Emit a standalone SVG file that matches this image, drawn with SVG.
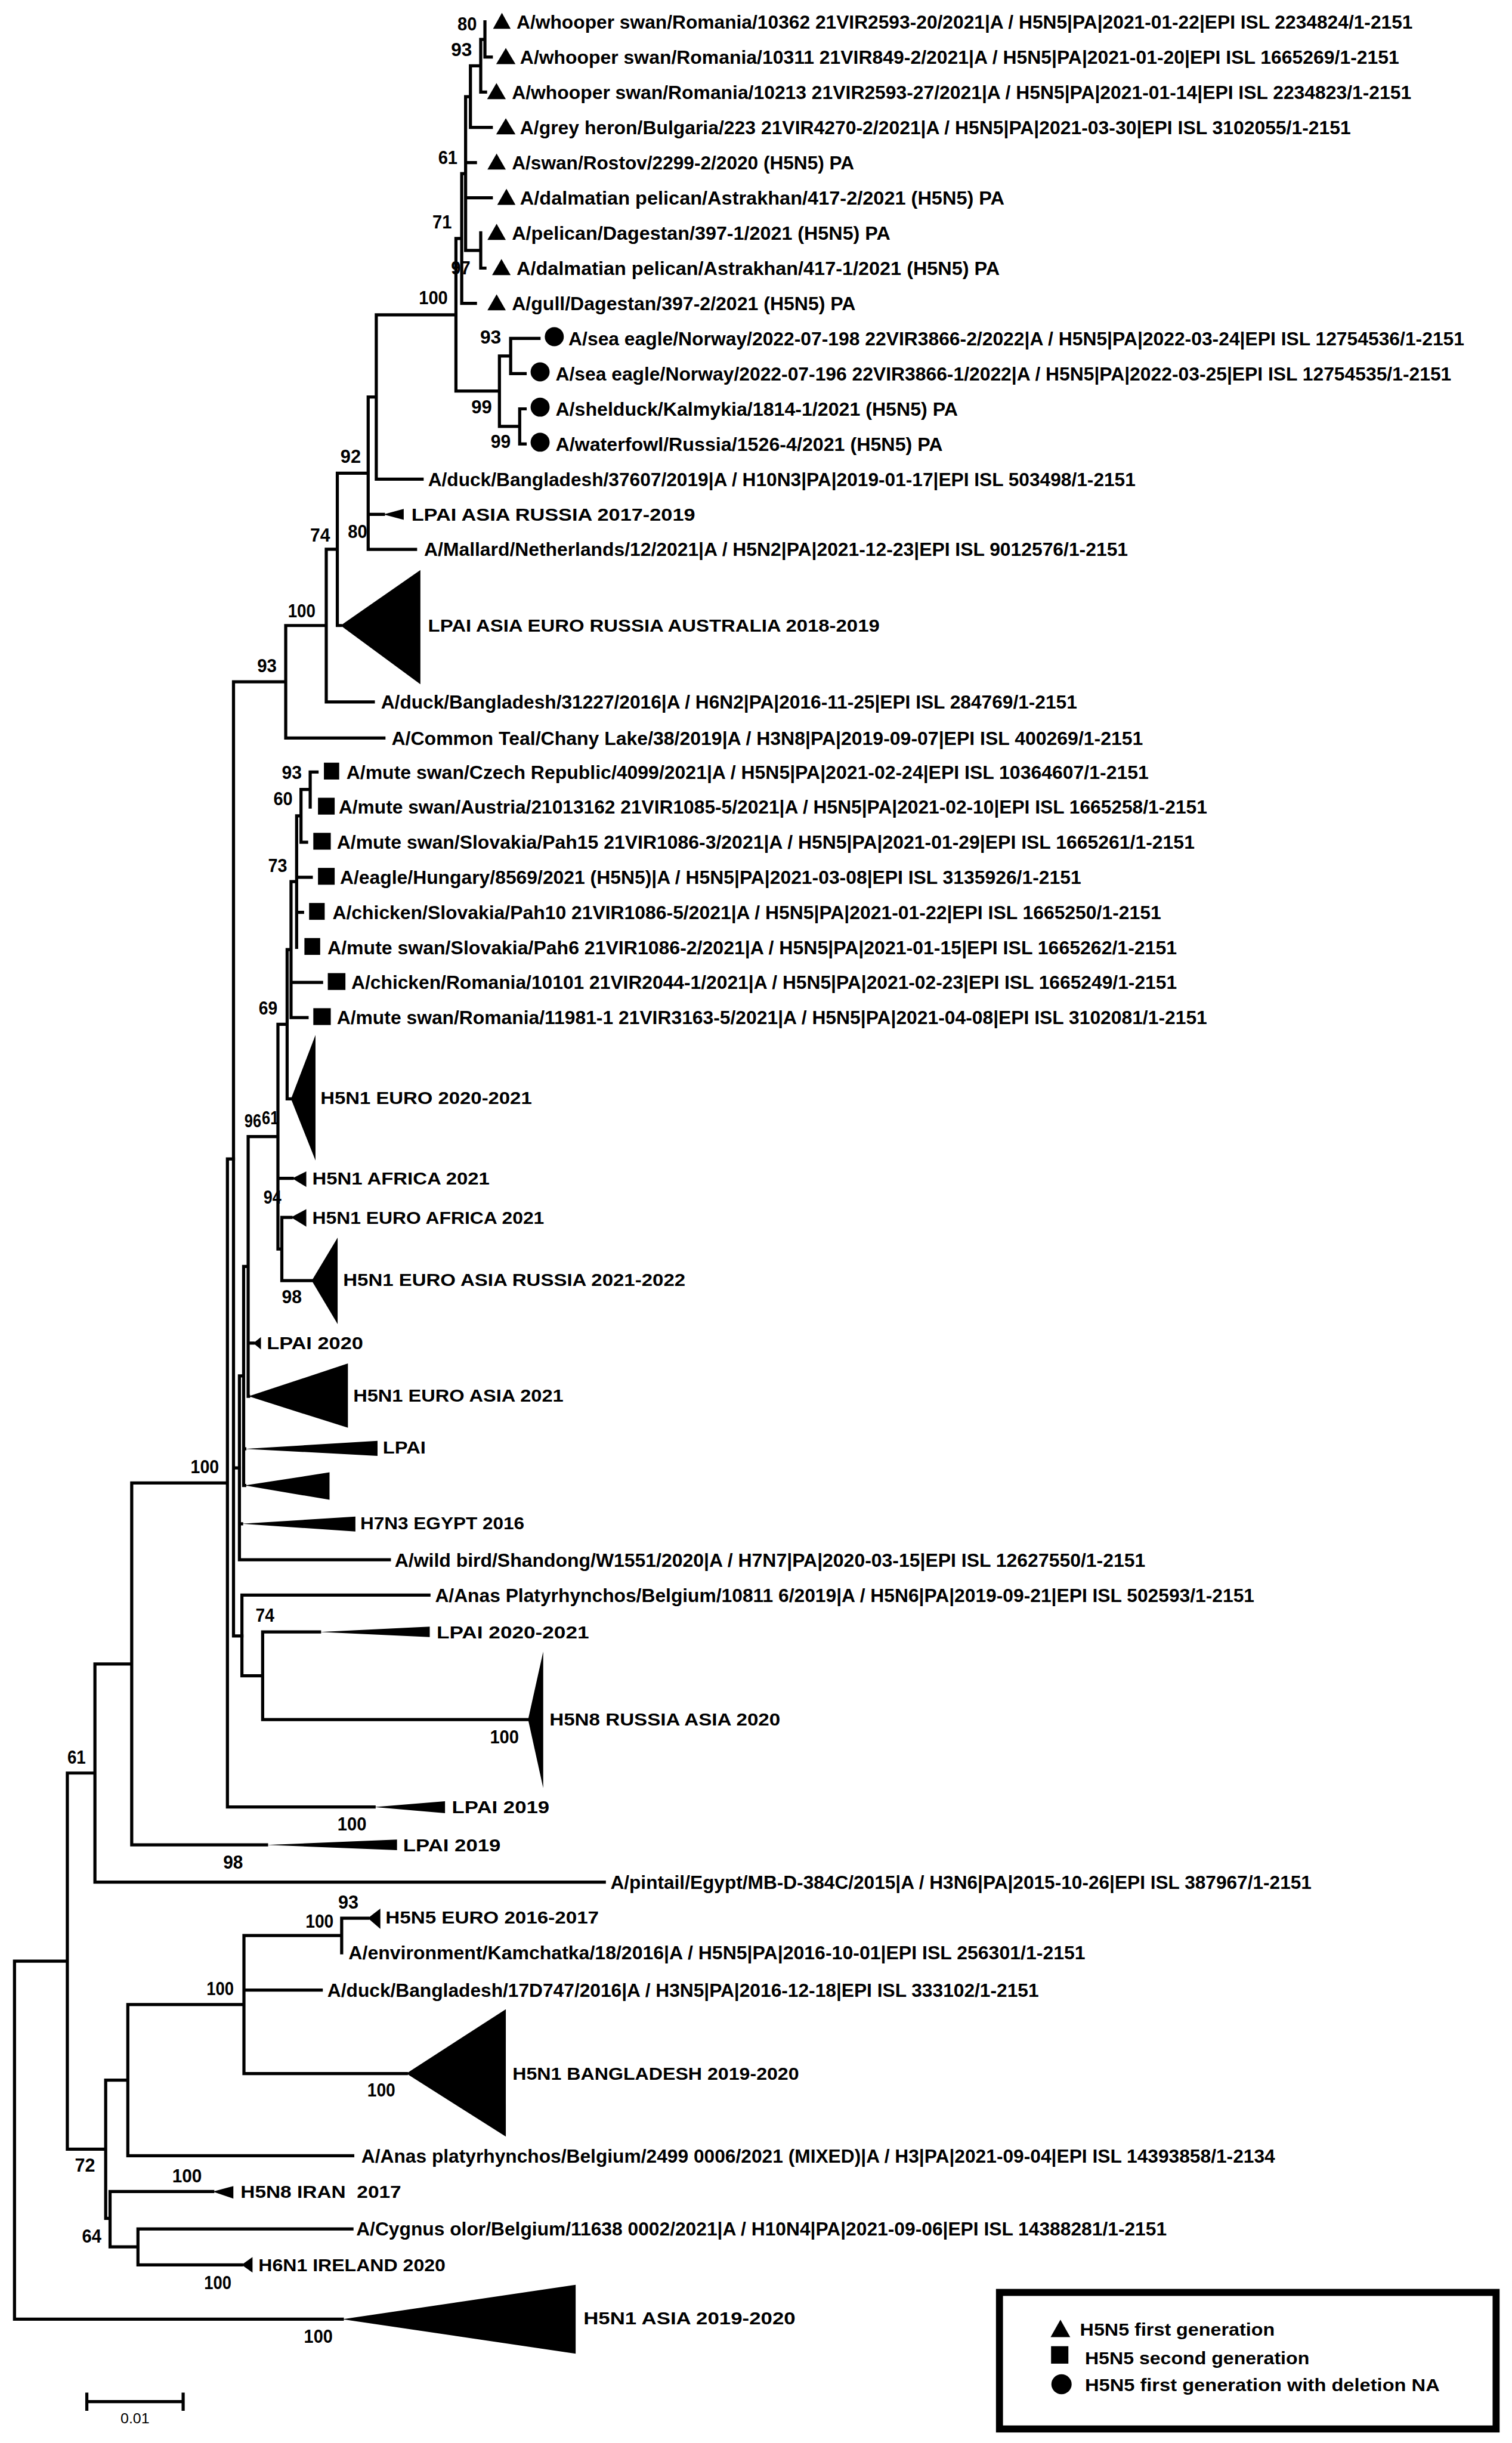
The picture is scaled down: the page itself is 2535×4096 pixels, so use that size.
<svg xmlns="http://www.w3.org/2000/svg" width="2535" height="4096" viewBox="0 0 2535 4096">
<style>
.b{fill:none;stroke:#000;stroke-width:2;stroke-linecap:square}
.t{font-family:'Liberation Sans',Arial,sans-serif;font-weight:bold;fill:#000}
.lf{font-size:12.3px}
.cl{font-size:11.5px}
.bs{font-size:12px}
.lg{font-size:11.5px}
.m{fill:#000;stroke:none}
</style>
<rect x="0" y="0" width="2535" height="4096" fill="#fff"/>
<g transform="scale(2.6134)">
<g id="connectors">
<path class="b" d="M311.1,14V36.6M311.1,36.6H315.2M308.4,25.3V59.1M308.4,25.3H311.1M308.4,59.1H311.5M301.8,42.2V81.7M301.8,42.2H308.4M301.8,81.7H315.2M298.7,62V160.7M298.7,62H301.8M298.7,104.3H305M298.7,126.9H315.2M298.7,160.7H308.4M308.4,149.4V172M308.4,172H311.1M296.2,111.4V194.6M296.2,111.4H298.7M296.2,194.6H305M292.5,153V250.9M292.5,153H296.2M292.5,250.9H320.4M320.4,228.4V273.5M320.4,228.4H327.6M320.4,273.5H333.4M327.6,217.1V239.7M327.6,217.1H345.8M327.6,239.7H336.9M333.4,262.3V284.8M333.4,262.3H336.9M333.4,284.8H336.9M241.4,202V307.4M241.4,202H292.5M241.4,307.4H270.8M236.2,254.7V352.5M236.2,254.7H241.4M236.2,330H246M236.2,352.5H266.6M216.4,303.6V401.3M216.4,303.6H236.2M216.4,401.3H218.5M209.3,352.4V450.3M209.3,352.4H216.4M209.3,450.3H239.5M183.3,401.3V473.5M183.3,401.3H209.3M183.3,473.5H246.3M149.8,437.4V1049.5M149.8,437.4H183.3M149.8,941.7H153.6M149.8,1049.5H155.2"/>
<path class="b" d="M199,495.3V517.8M199,495.3H203.4M193.1,506.5V540.3M193.1,506.5H199M193.1,540.3H196.7M190.3,523.4V607.8M190.3,523.4H193.1M190.3,562.8H199.7M190.3,585.3H194.1M186.7,565.6V652.8M186.7,565.6H190.3M186.7,630.3H206.3M186.7,652.8H197M184.2,609.2V705M184.2,609.2H186.7M184.2,705H186.7M178.3,657.1V801.3M178.3,657.1H184.2M178.3,756H187.5M178.3,801.3H180.8M180.8,781V821.6M180.8,781H186.7M180.8,821.6H200M159.2,729.2V895.8M159.2,729.2H178.3M159.2,861.7H162.5M159.2,895.8H159.5M156.3,812.5V953M156.3,812.5H159.2M156.3,929.5H157M156.3,953H157M153.6,882.7V1000.7M153.6,882.7H156.3M153.6,977.6H155M153.6,1000.7H249.8M155.2,1023.3V1075.1M155.2,1023.3H275.2M155.2,1075.1H168.5M168.5,1047V1103.2M168.5,1047H205M168.5,1103.2H338.8"/>
<path class="b" d="M145.9,743.5V1159.3M145.9,743.5H149.8M145.9,1159.3H240M84.5,951.4V1183.6M84.5,951.4H145.9M84.5,1183.6H171M60.9,1067.5V1207.5M60.9,1067.5H84.5M60.9,1207.5H387.7M43.2,1137.5V1378.8M43.2,1137.5H60.9M43.2,1378.8H67.8M67.8,1334.5V1423.2M67.8,1334.5H82M67.8,1423.2H70.6M82,1286V1383M82,1286H156.5M82,1383H226.3M156.5,1241.7V1330.3M156.5,1241.7H219.2M156.5,1276.7H206.1M156.5,1330.3H260.7M219.2,1230.6V1252.8M219.2,1230.6H236M70.6,1406V1441.5M70.6,1406H136.5M70.6,1441.5H88.5M88.5,1430V1453M88.5,1430H225.8M88.5,1453H155M9.3,1258.2V1487.9M9.3,1258.2H43.2M9.3,1487.9H219.6"/>
</g>
<g id="bootstrap" class="t bs">
<text x="293.5" y="19.6" textLength="12.4" lengthAdjust="spacingAndGlyphs">80</text>
<text x="289.4" y="36" textLength="13.4" lengthAdjust="spacingAndGlyphs">93</text>
<text x="281.1" y="105.3" textLength="12.4" lengthAdjust="spacingAndGlyphs">61</text>
<text x="277.4" y="146.5" textLength="12.4" lengthAdjust="spacingAndGlyphs">71</text>
<text x="289.4" y="175.9" textLength="12.4" lengthAdjust="spacingAndGlyphs">97</text>
<text x="268.7" y="195.1" textLength="18.6" lengthAdjust="spacingAndGlyphs">100</text>
<text x="308" y="220.5" textLength="13.5" lengthAdjust="spacingAndGlyphs">93</text>
<text x="302.4" y="265.2" textLength="13.2" lengthAdjust="spacingAndGlyphs">99</text>
<text x="314.8" y="287.5" textLength="12.8" lengthAdjust="spacingAndGlyphs">99</text>
<text x="218.4" y="296.9" textLength="13.1" lengthAdjust="spacingAndGlyphs">92</text>
<text x="223.2" y="345.1" textLength="12.4" lengthAdjust="spacingAndGlyphs">80</text>
<text x="199" y="347.4" textLength="12.8" lengthAdjust="spacingAndGlyphs">74</text>
<text x="184.7" y="396" textLength="17.7" lengthAdjust="spacingAndGlyphs">100</text>
<text x="165" y="431.3" textLength="12.5" lengthAdjust="spacingAndGlyphs">93</text>
<text x="180.8" y="499.6" textLength="12.8" lengthAdjust="spacingAndGlyphs">93</text>
<text x="175.4" y="516.7" textLength="12.3" lengthAdjust="spacingAndGlyphs">60</text>
<text x="172" y="559.5" textLength="12.2" lengthAdjust="spacingAndGlyphs">73</text>
<text x="166" y="650.9" textLength="12" lengthAdjust="spacingAndGlyphs">69</text>
<text x="156.8" y="723.3" textLength="10.8" lengthAdjust="spacingAndGlyphs">96</text>
<text x="168" y="721.3" textLength="10.8" lengthAdjust="spacingAndGlyphs">61</text>
<text x="169" y="772.1" textLength="11.5" lengthAdjust="spacingAndGlyphs">94</text>
<text x="180.8" y="836" textLength="12.8" lengthAdjust="spacingAndGlyphs">98</text>
<text x="122.3" y="945.1" textLength="18.2" lengthAdjust="spacingAndGlyphs">100</text>
<text x="164" y="1040.5" textLength="12" lengthAdjust="spacingAndGlyphs">74</text>
<text x="314.3" y="1118.5" textLength="18.6" lengthAdjust="spacingAndGlyphs">100</text>
<text x="216.5" y="1174.3" textLength="18.6" lengthAdjust="spacingAndGlyphs">100</text>
<text x="143.2" y="1198.9" textLength="12.7" lengthAdjust="spacingAndGlyphs">98</text>
<text x="43.2" y="1131.3" textLength="11.8" lengthAdjust="spacingAndGlyphs">61</text>
<text x="217" y="1224.6" textLength="13" lengthAdjust="spacingAndGlyphs">93</text>
<text x="196" y="1236.8" textLength="18" lengthAdjust="spacingAndGlyphs">100</text>
<text x="132.5" y="1280.1" textLength="17.5" lengthAdjust="spacingAndGlyphs">100</text>
<text x="235.6" y="1344.9" textLength="18" lengthAdjust="spacingAndGlyphs">100</text>
<text x="48" y="1393.3" textLength="13" lengthAdjust="spacingAndGlyphs">72</text>
<text x="110.5" y="1400.2" textLength="19" lengthAdjust="spacingAndGlyphs">100</text>
<text x="52.6" y="1438.8" textLength="12.4" lengthAdjust="spacingAndGlyphs">64</text>
<text x="131" y="1468.5" textLength="17.5" lengthAdjust="spacingAndGlyphs">100</text>
<text x="195" y="1503.1" textLength="18.4" lengthAdjust="spacingAndGlyphs">100</text>
</g>
<g id="leaf-whooper-10362"><polygon class="m" points="316.3,18.5 327.6,18.5 322,8.2"/><text class="t lf" x="331.4" y="18.3" textLength="574.9" lengthAdjust="spacingAndGlyphs">A/whooper swan/Romania/10362 21VIR2593-20/2021|A / H5N5|PA|2021-01-22|EPI ISL 2234824/1-2151</text></g>
<g id="leaf-whooper-10311"><polygon class="m" points="318.3,41.1 330.7,41.1 324.5,30.8"/><text class="t lf" x="333.6" y="40.9" textLength="564" lengthAdjust="spacingAndGlyphs">A/whooper swan/Romania/10311 21VIR849-2/2021|A / H5N5|PA|2021-01-20|EPI ISL 1665269/1-2151</text></g>
<g id="leaf-whooper-10213"><polygon class="m" points="312.5,63.6 324.5,63.6 318.5,53.3"/><text class="t lf" x="328.4" y="63.4" textLength="577" lengthAdjust="spacingAndGlyphs">A/whooper swan/Romania/10213 21VIR2593-27/2021|A / H5N5|PA|2021-01-14|EPI ISL 2234823/1-2151</text></g>
<g id="leaf-grey-heron"><polygon class="m" points="318.3,86.2 330.7,86.2 324.5,75.9"/><text class="t lf" x="333.6" y="86" textLength="533" lengthAdjust="spacingAndGlyphs">A/grey heron/Bulgaria/223 21VIR4270-2/2021|A / H5N5|PA|2021-03-30|EPI ISL 3102055/1-2151</text></g>
<g id="leaf-swan-rostov"><polygon class="m" points="312.7,108.8 324.5,108.8 318.6,98.5"/><text class="t lf" x="328.4" y="108.6" textLength="219.6" lengthAdjust="spacingAndGlyphs">A/swan/Rostov/2299-2/2020 (H5N5) PA</text></g>
<g id="leaf-dalmatian-417-2"><polygon class="m" points="319,131.4 330.7,131.4 324.9,121.1"/><text class="t lf" x="333.6" y="131.2" textLength="310.8" lengthAdjust="spacingAndGlyphs">A/dalmatian pelican/Astrakhan/417-2/2021 (H5N5) PA</text></g>
<g id="leaf-pelican-397-1"><polygon class="m" points="312.7,153.9 324.5,153.9 318.6,143.6"/><text class="t lf" x="328.4" y="153.7" textLength="242.8" lengthAdjust="spacingAndGlyphs">A/pelican/Dagestan/397-1/2021 (H5N5) PA</text></g>
<g id="leaf-dalmatian-417-1"><polygon class="m" points="315.7,176.5 327.6,176.5 321.7,166.2"/><text class="t lf" x="331.4" y="176.3" textLength="310" lengthAdjust="spacingAndGlyphs">A/dalmatian pelican/Astrakhan/417-1/2021 (H5N5) PA</text></g>
<g id="leaf-gull"><polygon class="m" points="312.7,199.1 324.5,199.1 318.6,188.8"/><text class="t lf" x="328.4" y="198.9" textLength="220.5" lengthAdjust="spacingAndGlyphs">A/gull/Dagestan/397-2/2021 (H5N5) PA</text></g>
<g id="leaf-sea-eagle-198"><circle class="m" cx="355.6" cy="216" r="6.1"/><text class="t lf" x="364.7" y="221.4" textLength="574.7" lengthAdjust="spacingAndGlyphs">A/sea eagle/Norway/2022-07-198 22VIR3866-2/2022|A / H5N5|PA|2022-03-24|EPI ISL 12754536/1-2151</text></g>
<g id="leaf-sea-eagle-196"><circle class="m" cx="346.5" cy="238.6" r="6.1"/><text class="t lf" x="356.4" y="244" textLength="574.7" lengthAdjust="spacingAndGlyphs">A/sea eagle/Norway/2022-07-196 22VIR3866-1/2022|A / H5N5|PA|2022-03-25|EPI ISL 12754535/1-2151</text></g>
<g id="leaf-shelduck"><circle class="m" cx="346.5" cy="261.2" r="6.1"/><text class="t lf" x="356.4" y="266.6" textLength="258.1" lengthAdjust="spacingAndGlyphs">A/shelduck/Kalmykia/1814-1/2021 (H5N5) PA</text></g>
<g id="leaf-waterfowl"><circle class="m" cx="346.5" cy="283.7" r="6.1"/><text class="t lf" x="356.4" y="289.1" textLength="248.4" lengthAdjust="spacingAndGlyphs">A/waterfowl/Russia/1526-4/2021 (H5N5) PA</text></g>
<g id="leaf-duck-37607"><text class="t lf" x="274.6" y="311.7" textLength="453.9" lengthAdjust="spacingAndGlyphs">A/duck/Bangladesh/37607/2019|A / H10N3|PA|2019-01-17|EPI ISL 503498/1-2151</text></g>
<g id="clade-lpai-asia-russia"><polygon class="m" points="246,330 259,326.5 259,333.5"/><text class="t cl" x="263.9" y="334.1" textLength="182.1" lengthAdjust="spacingAndGlyphs">LPAI ASIA RUSSIA 2017-2019</text></g>
<g id="leaf-mallard"><text class="t lf" x="272.1" y="356.8" textLength="451.5" lengthAdjust="spacingAndGlyphs">A/Mallard/Netherlands/12/2021|A / H5N2|PA|2021-12-23|EPI ISL 9012576/1-2151</text></g>
<g id="clade-lpai-asia-euro"><polygon class="m" points="218.5,401.3 269.7,365.7 269.7,439"/><text class="t cl" x="274.6" y="405.4" textLength="289.7" lengthAdjust="spacingAndGlyphs">LPAI ASIA EURO RUSSIA AUSTRALIA 2018-2019</text></g>
<g id="leaf-duck-31227"><text class="t lf" x="244.4" y="454.6" textLength="446.6" lengthAdjust="spacingAndGlyphs">A/duck/Bangladesh/31227/2016|A / H6N2|PA|2016-11-25|EPI ISL 284769/1-2151</text></g>
<g id="leaf-common-teal"><text class="t lf" x="251.2" y="477.8" textLength="482.1" lengthAdjust="spacingAndGlyphs">A/Common Teal/Chany Lake/38/2019|A / H3N8|PA|2019-09-07|EPI ISL 400269/1-2151</text></g>
<g id="leaf-czech"><rect class="m" x="207.8" y="489.3" width="9.8" height="10.8"/><text class="t lf" x="222.2" y="499.6" textLength="514.7" lengthAdjust="spacingAndGlyphs">A/mute swan/Czech Republic/4099/2021|A / H5N5|PA|2021-02-24|EPI ISL 10364607/1-2151</text></g>
<g id="leaf-austria"><rect class="m" x="204" y="511.8" width="10.7" height="10.8"/><text class="t lf" x="217.3" y="522.1" textLength="557.1" lengthAdjust="spacingAndGlyphs">A/mute swan/Austria/21013162 21VIR1085-5/2021|A / H5N5|PA|2021-02-10|EPI ISL 1665258/1-2151</text></g>
<g id="leaf-pah15"><rect class="m" x="201" y="534.3" width="11.2" height="10.8"/><text class="t lf" x="216.1" y="544.6" textLength="550.3" lengthAdjust="spacingAndGlyphs">A/mute swan/Slovakia/Pah15 21VIR1086-3/2021|A / H5N5|PA|2021-01-29|EPI ISL 1665261/1-2151</text></g>
<g id="leaf-hungary"><rect class="m" x="204" y="556.8" width="10.7" height="10.8"/><text class="t lf" x="218.1" y="567.1" textLength="475.5" lengthAdjust="spacingAndGlyphs">A/eagle/Hungary/8569/2021 (H5N5)|A / H5N5|PA|2021-03-08|EPI ISL 3135926/1-2151</text></g>
<g id="leaf-pah10"><rect class="m" x="198.3" y="579.3" width="10" height="10.8"/><text class="t lf" x="213.3" y="589.6" textLength="531.6" lengthAdjust="spacingAndGlyphs">A/chicken/Slovakia/Pah10 21VIR1086-5/2021|A / H5N5|PA|2021-01-22|EPI ISL 1665250/1-2151</text></g>
<g id="leaf-pah6"><rect class="m" x="195.3" y="601.8" width="10.1" height="10.8"/><text class="t lf" x="210.1" y="612.1" textLength="544.9" lengthAdjust="spacingAndGlyphs">A/mute swan/Slovakia/Pah6 21VIR1086-2/2021|A / H5N5|PA|2021-01-15|EPI ISL 1665262/1-2151</text></g>
<g id="leaf-romania-10101"><rect class="m" x="210.3" y="624.3" width="11.3" height="10.8"/><text class="t lf" x="225.4" y="634.6" textLength="529.6" lengthAdjust="spacingAndGlyphs">A/chicken/Romania/10101 21VIR2044-1/2021|A / H5N5|PA|2021-02-23|EPI ISL 1665249/1-2151</text></g>
<g id="leaf-romania-11981"><rect class="m" x="201" y="646.8" width="11.2" height="10.8"/><text class="t lf" x="216.1" y="657.1" textLength="558.3" lengthAdjust="spacingAndGlyphs">A/mute swan/Romania/11981-1 21VIR3163-5/2021|A / H5N5|PA|2021-04-08|EPI ISL 3102081/1-2151</text></g>
<g id="clade-h5n1-euro-2020"><polygon class="m" points="186.7,705 202.4,664 202.4,744.5"/><text class="t cl" x="205.6" y="708.1" textLength="135.6" lengthAdjust="spacingAndGlyphs">H5N1 EURO 2020-2021</text></g>
<g id="clade-h5n1-africa"><polygon class="m" points="187.5,756 196.5,751.5 196.5,761.5"/><text class="t cl" x="200.3" y="760.1" textLength="113.8" lengthAdjust="spacingAndGlyphs">H5N1 AFRICA 2021</text></g>
<g id="clade-h5n1-euro-africa"><polygon class="m" points="186.7,781 196.5,775.7 196.5,787"/><text class="t cl" x="200.3" y="785.1" textLength="148.8" lengthAdjust="spacingAndGlyphs">H5N1 EURO AFRICA 2021</text></g>
<g id="clade-h5n1-euro-asia-russia"><polygon class="m" points="200,821.6 216.6,794 216.6,849.5"/><text class="t cl" x="220.1" y="825.1" textLength="219.6" lengthAdjust="spacingAndGlyphs">H5N1 EURO ASIA RUSSIA 2021-2022</text></g>
<g id="clade-lpai-2020"><polygon class="m" points="162.5,861.7 167.4,857.8 167.4,865.7"/><text class="t cl" x="171.1" y="865.6" textLength="61.9" lengthAdjust="spacingAndGlyphs">LPAI 2020</text></g>
<g id="clade-h5n1-euro-asia"><polygon class="m" points="159.5,895.8 223.2,874.7 223.2,916"/><text class="t cl" x="226.6" y="899.1" textLength="134.9" lengthAdjust="spacingAndGlyphs">H5N1 EURO ASIA 2021</text></g>
<g id="clade-lpai"><polygon class="m" points="157,929.5 242.2,924.4 242.2,934"/><text class="t cl" x="245.6" y="932.6" textLength="27.6" lengthAdjust="spacingAndGlyphs">LPAI</text></g>
<g id="clade-unlabeled"><polygon class="m" points="157,953 211.4,944.6 211.4,962.2"/></g>
<g id="clade-h7n3"><polygon class="m" points="155,977.6 228,973 228,982.5"/><text class="t cl" x="231.1" y="981.1" textLength="105.3" lengthAdjust="spacingAndGlyphs">H7N3 EGYPT 2016</text></g>
<g id="leaf-wild-bird"><text class="t lf" x="253.2" y="1005.3" textLength="481.6" lengthAdjust="spacingAndGlyphs">A/wild bird/Shandong/W1551/2020|A / H7N7|PA|2020-03-15|EPI ISL 12627550/1-2151</text></g>
<g id="leaf-anas-10811"><text class="t lf" x="279.1" y="1027.6" textLength="525.6" lengthAdjust="spacingAndGlyphs">A/Anas Platyrhynchos/Belgium/10811 6/2019|A / H5N6|PA|2019-09-21|EPI ISL 502593/1-2151</text></g>
<g id="clade-lpai-2020-2021"><polygon class="m" points="205,1047 275.7,1043.6 275.7,1050.3"/><text class="t cl" x="280.1" y="1051.1" textLength="97.8" lengthAdjust="spacingAndGlyphs">LPAI 2020-2021</text></g>
<g id="clade-h5n8-russia-asia"><polygon class="m" points="338.8,1103.2 348.5,1059.5 348.5,1147.2"/><text class="t cl" x="352.5" y="1107.1" textLength="148.1" lengthAdjust="spacingAndGlyphs">H5N8 RUSSIA ASIA 2020</text></g>
<g id="clade-lpai-2019-a"><polygon class="m" points="240,1159.3 285.5,1155.6 285.5,1163.2"/><text class="t cl" x="289.9" y="1163.1" textLength="62.6" lengthAdjust="spacingAndGlyphs">LPAI 2019</text></g>
<g id="clade-lpai-2019-b"><polygon class="m" points="171,1183.6 254.7,1180.2 254.7,1187"/><text class="t cl" x="258.6" y="1187.7" textLength="62.6" lengthAdjust="spacingAndGlyphs">LPAI 2019</text></g>
<g id="leaf-pintail"><text class="t lf" x="391.6" y="1211.8" textLength="449.8" lengthAdjust="spacingAndGlyphs">A/pintail/Egypt/MB-D-384C/2015|A / H3N6|PA|2015-10-26|EPI ISL 387967/1-2151</text></g>
<g id="clade-h5n5-euro"><polygon class="m" points="236,1230.6 244,1224.5 244,1237.5"/><text class="t cl" x="247.3" y="1234.1" textLength="136.9" lengthAdjust="spacingAndGlyphs">H5N5 EURO 2016-2017</text></g>
<g id="leaf-kamchatka"><text class="t lf" x="223.6" y="1257.1" textLength="472.7" lengthAdjust="spacingAndGlyphs">A/environment/Kamchatka/18/2016|A / H5N5|PA|2016-10-01|EPI ISL 256301/1-2151</text></g>
<g id="leaf-duck-17d747"><text class="t lf" x="210" y="1281" textLength="456.4" lengthAdjust="spacingAndGlyphs">A/duck/Bangladesh/17D747/2016|A / H3N5|PA|2016-12-18|EPI ISL 333102/1-2151</text></g>
<g id="clade-h5n1-bangladesh"><polygon class="m" points="260.7,1330.3 324.5,1289 324.5,1370.7"/><text class="t cl" x="328.8" y="1334.1" textLength="183.8" lengthAdjust="spacingAndGlyphs">H5N1 BANGLADESH 2019-2020</text></g>
<g id="leaf-anas-2499"><text class="t lf" x="231.8" y="1387.3" textLength="586.2" lengthAdjust="spacingAndGlyphs">A/Anas platyrhynchos/Belgium/2499 0006/2021 (MIXED)|A / H3|PA|2021-09-04|EPI ISL 14393858/1-2134</text></g>
<g id="clade-h5n8-iran"><polygon class="m" points="136.5,1406 149.7,1402.5 149.7,1410.5"/><text class="t cl" x="154.3" y="1410.1" textLength="103.1" lengthAdjust="spacingAndGlyphs" style="white-space:pre">H5N8 IRAN  2017</text></g>
<g id="leaf-cygnus"><text class="t lf" x="228.5" y="1434.3" textLength="520" lengthAdjust="spacingAndGlyphs">A/Cygnus olor/Belgium/11638 0002/2021|A / H10N4|PA|2021-09-06|EPI ISL 14388281/1-2151</text></g>
<g id="clade-h6n1-ireland"><polygon class="m" points="155,1453 162,1448 162,1458"/><text class="t cl" x="165.8" y="1457.1" textLength="120" lengthAdjust="spacingAndGlyphs">H6N1 IRELAND 2020</text></g>
<g id="clade-h5n1-asia"><polygon class="m" points="219.6,1487.9 369.3,1465.8 369.3,1510"/><text class="t cl" x="374.3" y="1491.1" textLength="136" lengthAdjust="spacingAndGlyphs">H5N1 ASIA 2019-2020</text></g>
<g id="legend">
<rect x="641.2" y="1470.7" width="318.6" height="87.6" fill="#fff" stroke="#000" stroke-width="4.5"/>
<polygon class="m" points="674,1499.4 686.6,1499.4 680.3,1488.2"/>
<text class="t lg" x="692.8" y="1498.6" textLength="125" lengthAdjust="spacingAndGlyphs">H5N5 first generation</text>
<rect class="m" x="674.3" y="1505.2" width="11.1" height="11.2"/>
<text class="t lg" x="696" y="1516.8" textLength="144" lengthAdjust="spacingAndGlyphs">H5N5 second generation</text>
<ellipse class="m" cx="681" cy="1529.6" rx="6.5" ry="6.4"/>
<text class="t lg" x="696" y="1534.1" textLength="227.6" lengthAdjust="spacingAndGlyphs">H5N5 first generation with deletion NA</text>
</g>
<g id="scale-bar">
<path class="b" d="M55.7,1540.8H117.5M55.7,1536V1545.6M117.5,1536V1545.6"/>
<text x="77.3" y="1554.6" font-family="'Liberation Sans',Arial,sans-serif" font-size="9" textLength="18.6" lengthAdjust="spacingAndGlyphs">0.01</text>
</g>
</g>
</svg>
